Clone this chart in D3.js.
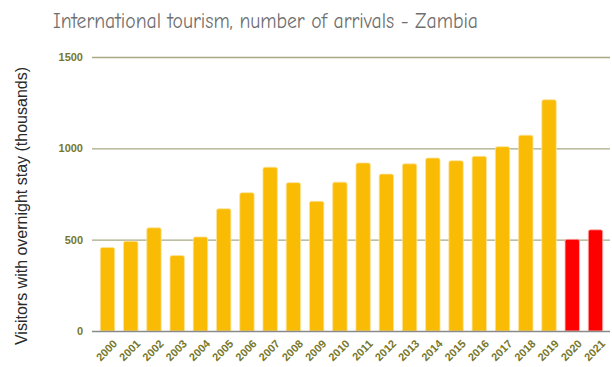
<!DOCTYPE html>
<html>
<head>
<meta charset="utf-8">
<script src="https://cdn.jsdelivr.net/npm/d3@7"></script>
<style>
  body { margin: 0; background: #fff; }
  svg { display: block; }
</style>
</head>
<body>
<svg id="chart"></svg>
<script>
var width = 612;
var height = 367;

var years = ['2000', '2001', '2002', '2003', '2004', '2005', '2006', '2007', '2008', '2009', '2010',
             '2011', '2012', '2013', '2014', '2015', '2016', '2017', '2018', '2019', '2020', '2021'];
var arrivals = [457, 491, 565, 413, 515, 669, 757, 897, 812, 710, 815,
                920, 859, 915, 947, 932, 956, 1009, 1072, 1266, 502, 554];
var covidYears = ['2020', '2021'];
var yTicks = [0, 500, 1000, 1500];

var tickColor = '#77772a';

var svg = d3.select('#chart')
  .attr('width', width)
  .attr('height', height);

var x = d3.scaleBand()
  .domain(years)
  .range([96, 607])
  .paddingInner(0.38)
  .paddingOuter(0.185);

var y = d3.scaleLinear()
  .domain([0, 1500])
  .range([331, 57]);

// gridlines
svg.append('g')
  .selectAll('line')
  .data(yTicks.filter(function (d) { return d > 0; }))
  .enter().append('line')
  .attr('x1', 92)
  .attr('x2', 610)
  .attr('y1', function (d) { return y(d) + 0.5; })
  .attr('y2', function (d) { return y(d) + 0.5; })
  .attr('stroke', '#a9a985')
  .attr('stroke-width', 1.3);

// y tick labels
svg.append('g')
  .selectAll('text')
  .data(yTicks)
  .enter().append('text')
  .attr('x', 83)
  .attr('y', function (d) { return y(d) + 4; })
  .attr('text-anchor', 'end')
  .attr('font-family', 'Liberation Sans, Arial, sans-serif')
  .attr('font-size', 11)
  .attr('font-weight', 'bold')
  .attr('fill', tickColor)
  .text(function (d) { return d; });

// bars
svg.append('g')
  .selectAll('path')
  .data(years)
  .enter().append('path')
  .attr('fill', function (d) { return covidYears.indexOf(d) >= 0 ? '#ff0000' : '#f9bb03'; })
  .attr('stroke', function (d) { return covidYears.indexOf(d) >= 0 ? '#ffb3b3' : '#fce39a'; })
  .attr('stroke-width', 0.8)
  .attr('d', function (d, i) {
      var x0 = x(d), w = x.bandwidth(), y0 = y(arrivals[i]), yb = y(0), r = 2;
      return 'M' + x0 + ',' + yb +
        'V' + (y0 + r) +
        'Q' + x0 + ',' + y0 + ' ' + (x0 + r) + ',' + y0 +
        'H' + (x0 + w - r) +
        'Q' + (x0 + w) + ',' + y0 + ' ' + (x0 + w) + ',' + (y0 + r) +
        'V' + yb + 'Z';
  });

// baseline
svg.append('line')
  .attr('x1', 92)
  .attr('x2', 610)
  .attr('y1', y(0) + 0.5)
  .attr('y2', y(0) + 0.5)
  .attr('stroke', '#8a8a8a')
  .attr('stroke-width', 1.3);

// x tick labels
svg.append('g')
  .selectAll('text')
  .data(years)
  .enter().append('text')
  .attr('transform', function (d) {
      return 'translate(' + (x(d) + x.bandwidth() / 2 + 5) + ',' + 339 + ') rotate(-45)';
  })
  .attr('text-anchor', 'end')
  .attr('dy', '0.7em')
  .attr('font-family', 'Liberation Sans, Arial, sans-serif')
  .attr('font-size', 11)
  .attr('font-weight', 'bold')
  .attr('fill', tickColor)
  .text(function (d) { return d; });

// y axis title
svg.append('text')
  .attr('transform', 'translate(27,206) rotate(-90)')
  .attr('text-anchor', 'middle')
  .attr('font-family', 'Liberation Sans, Arial, sans-serif')
  .attr('font-size', 16)
  .attr('fill', '#2a2a2a')
  .text('Visitors with overnight stay (thousands)');

// title
svg.append('text')
  .attr('x', 53)
  .attr('y', 28)
  .attr('textLength', 425)
  .attr('lengthAdjust', 'spacingAndGlyphs')
  .attr('font-family', '"Comic Sans MS", "Comic Neue", "DejaVu Sans", sans-serif')
  .attr('font-size', 22)
  .attr('fill', '#6f6f6f')
  .text('International tourism, number of arrivals - Zambia');
</script>
</body>
</html>
